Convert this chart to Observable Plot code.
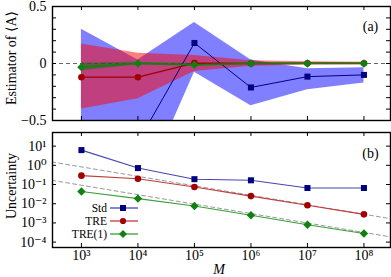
<!DOCTYPE html>
<html><head><meta charset="utf-8">
<script src="https://cdn.jsdelivr.net/npm/d3@7"></script>
<script src="https://cdn.jsdelivr.net/npm/@observablehq/plot@0.6"></script>
<style>
body{margin:0;background:#fff}
#chart{position:relative;width:391px;height:277px;font-family:"Liberation Serif","DejaVu Serif",serif;overflow:hidden}
#chart svg{display:block}
.leg{position:absolute;left:0;display:flex;align-items:center;height:12px;font-size:11.5px;line-height:12px}
.leg span{display:inline-block;width:107px;text-align:right}
.lab{position:absolute;font-size:14px;line-height:14px;white-space:nowrap;transform:translate(-50%,-50%)}
.lab.rot{transform:translate(-50%,-50%) rotate(-90deg)}
</style>
</head><body><div id="chart"></div>
<script>
// ---- data ----
const M = [1e3, 1e4, 1e5, 1e6, 1e7, 1e8];
// panel (a): estimators and uncertainty bands
const stdEst = [-1.2, -0.69, 0.18, -0.21, -0.115, -0.10];
const stdLo  = [-2.5, -1.21, -0.076, -0.37, -0.23, -0.17];
const stdHi  = [0.30, 0.03, 0.36, 0.03, -0.047, -0.038];
const treEst = [-0.12, -0.12, 0.003, 0.0, 0.002, 0.002];
const treLo  = [-0.40, -0.31, -0.07, -0.025, -0.014, -0.01];
const treHi  = [0.17, 0.09, 0.07, 0.025, 0.016, 0.012];
const tre1Est = [-0.032, 0.0, -0.012, 0.0, 0.0, 0.0];
const tre1Lo  = [-0.065, -0.01, -0.02, -0.006, -0.004, -0.003];
const tre1Hi  = [0.005, 0.01, 0.0, 0.006, 0.004, 0.003];
// panel (b): uncertainties
const stdUnc  = [6.2, 0.72, 0.19, 0.166, 0.066, 0.066];
const treUnc  = [0.29, 0.2, 0.074, 0.025, 0.0083, 0.0028];
const tre1Unc = [0.043, 0.0185, 0.0076, 0.0025, 0.00081, 0.00028];
// dashed M^(-1/2) guide lines (end points)
const refM    = [300, 3e8];
const refHigh = [1.5, 0.00165];
const refLow  = [0.166, 0.000186];
// ticks and texts
const estLabelTicks = [-0.5, 0, 0.5];
const estMinorTicks = [-0.4, -0.3, -0.2, -0.1, 0, 0.1, 0.2, 0.3, 0.4];
const uncTicks = [1e1, 1e0, 1e-1, 1e-2, 1e-3, 1e-4];
const seriesNames = ["Std", "TRE", "TRE(1)"];
const yLabelA = "Estimator of ⟨A⟩", yLabelB = "Uncertainty", xLabel = "M";

// ---- styling ----
const W = 391, ML = 52, MR = 1;
const FW = W - ML - MR;
const xDomain = [10 ** 2.488, 10 ** 8.47];
const navy = "#000080", dred = "#a00000", dgreen = "#108010";
const font = "'Liberation Serif','DejaVu Serif',serif";
const supMap = {"-":"⁻","0":"⁰","1":"¹","2":"²","3":"³","4":"⁴","5":"⁵","6":"⁶","7":"⁷","8":"⁸","9":"⁹"};
const pow = d => "10" + String(Math.round(Math.log10(d))).split("").map(c => supMap[c]).join("");

const topRows = M.map((m, i) => ({M: m,
  std: stdEst[i], stdLo: stdLo[i], stdHi: stdHi[i],
  tre: treEst[i], treLo: treLo[i], treHi: treHi[i],
  tre1: tre1Est[i], tre1Lo: tre1Lo[i], tre1Hi: tre1Hi[i]}));
const botRows = M.map((m, i) => ({M: m, std: stdUnc[i], tre: treUnc[i], tre1: tre1Unc[i]}));
const refRows = refM.map((m, i) => ({M: m, hi: refHigh[i], lo: refLow[i]}));

const chart = document.getElementById("chart");

// ---- panel (a) ----
const H1 = 130, MT1 = 6, MB1 = 10, FH1 = H1 - MT1 - MB1;
const panelA = Plot.plot({
  width: W, height: H1, marginTop: MT1, marginBottom: MB1, marginLeft: ML, marginRight: MR,
  style: {fontFamily: font, fontSize: "14px", background: "transparent", color: "black"},
  x: {type: "log", domain: xDomain},
  y: {domain: [-0.5, 0.5]},
  marks: [
    Plot.ruleY([0], {stroke: "#555", strokeDasharray: "4,3", strokeWidth: 0.9}),
    Plot.areaY(topRows, {x: "M", y1: "stdLo", y2: "stdHi", fill: "#0000ff", fillOpacity: 0.5, clip: true}),
    Plot.areaY(topRows, {x: "M", y1: "treLo", y2: "treHi", fill: "#ff0000", fillOpacity: 0.5, clip: true}),
    Plot.areaY(topRows, {x: "M", y1: "tre1Lo", y2: "tre1Hi", fill: "#008000", fillOpacity: 0.5, clip: true}),
    Plot.line(topRows, {x: "M", y: "std", stroke: navy, strokeWidth: 1, clip: true}),
    Plot.line(topRows, {x: "M", y: "tre", stroke: dred, strokeWidth: 1.3, clip: true}),
    Plot.line(topRows, {x: "M", y: "tre1", stroke: dgreen, strokeWidth: 1.6, clip: true}),
    Plot.dot(topRows, {x: "M", y: "std", symbol: "square", r: 3.4, fill: navy, clip: true}),
    Plot.dot(topRows, {x: "M", y: "tre", symbol: "circle", r: 3.3, fill: dred, clip: true}),
    Plot.dot(topRows, {x: "M", y: "tre1", symbol: "diamond2", r: 3.8, fill: dgreen, clip: true}),
    Plot.ruleX(M, {insetTop: FH1 - 4, stroke: "black"}),
    Plot.ruleX(M, {insetBottom: FH1 - 4, stroke: "black"}),
    Plot.ruleY(estMinorTicks, {insetRight: FW - 4, stroke: "black"}),
    Plot.ruleY(estMinorTicks, {insetLeft: FW - 4, stroke: "black"}),
    Plot.frame({stroke: "black", strokeWidth: 1.4}),
    Plot.axisY({ticks: estLabelTicks, tickSize: 0, tickPadding: 6,
      tickFormat: d => d === 0 ? "0" : (d < 0 ? "−" : "") + Math.abs(d), label: null}),
    Plot.axisX({ticks: [], label: null}),
    Plot.text(["(a)"], {frameAnchor: "top-right", dx: -20, dy: 20, textAnchor: "middle", lineAnchor: "middle", fontSize: 14})
  ]
});
chart.appendChild(panelA);

// ---- panel (b) ----
const H2 = 147, MT2 = 2, MB2 = 30, FH2 = H2 - MT2 - MB2;
const panelB = Plot.plot({
  width: W, height: H2, marginTop: MT2, marginBottom: MB2, marginLeft: ML, marginRight: MR,
  style: {fontFamily: font, fontSize: "14px", background: "transparent", color: "black"},
  x: {type: "log", domain: xDomain},
  y: {type: "log", domain: [10 ** -4.28, 10 ** 1.71]},
  marks: [
    Plot.line(refRows, {x: "M", y: "hi", stroke: "#999", strokeDasharray: "4,3", strokeWidth: 1, clip: true}),
    Plot.line(refRows, {x: "M", y: "lo", stroke: "#999", strokeDasharray: "4,3", strokeWidth: 1, clip: true}),
    Plot.line(botRows, {x: "M", y: "std", stroke: "#4646b0", strokeWidth: 1.1}),
    Plot.line(botRows, {x: "M", y: "tre", stroke: "#c03c3c", strokeWidth: 1.1}),
    Plot.line(botRows, {x: "M", y: "tre1", stroke: "#38a038", strokeWidth: 1.1}),
    Plot.dot(botRows, {x: "M", y: "std", symbol: "square", r: 3.4, fill: navy}),
    Plot.dot(botRows, {x: "M", y: "tre", symbol: "circle", r: 3.3, fill: dred}),
    Plot.dot(botRows, {x: "M", y: "tre1", symbol: "diamond2", r: 3.8, fill: dgreen}),
    Plot.ruleX(M, {insetTop: FH2 - 4, stroke: "black"}),
    Plot.ruleX(M, {insetBottom: FH2 - 4, stroke: "black"}),
    Plot.ruleY(uncTicks, {insetRight: FW - 4, stroke: "black"}),
    Plot.ruleY(uncTicks, {insetLeft: FW - 4, stroke: "black"}),
    Plot.frame({stroke: "black", strokeWidth: 1.4}),
    Plot.axisY({ticks: uncTicks, tickSize: 0, tickPadding: 6, tickFormat: pow, label: null}),
    Plot.axisX({ticks: M, tickSize: 0, tickPadding: 3, tickFormat: pow, label: null}),
    Plot.text(["(b)"], {frameAnchor: "top-right", dx: -20, dy: 21, textAnchor: "middle", lineAnchor: "middle", fontSize: 14})
  ]
});
chart.appendChild(panelB);

// ---- axis titles (HTML overlay) ----
function addLabel(text, x, y, cls, extra) {
  const d = document.createElement("div");
  d.className = "lab " + cls;
  d.style.left = x + "px";
  d.style.top = y + "px";
  if (extra) Object.assign(d.style, extra);
  d.textContent = text;
  chart.appendChild(d);
}
addLabel(yLabelA, 12, 58, "rot");
addLabel(yLabelB, 12, 186, "rot");
addLabel(xLabel, 219, 270, "", {fontStyle: "italic"});

// ---- legend (panel b) ----
const legColors = [[navy, "#4646b0", "square"], [dred, "#c03c3c", "circle"], [dgreen, "#38a038", "diamond"]];
const legY = [202.3, 215, 227.7];
seriesNames.forEach((name, i) => {
  const [mc, lc, sym] = legColors[i];
  const row = document.createElement("div");
  row.className = "leg";
  row.style.top = legY[i] + "px";
  let marker;
  if (sym === "square") marker = `<rect x="11" y="3" width="6" height="6" fill="${mc}"/>`;
  else if (sym === "circle") marker = `<circle cx="14" cy="6" r="3.1" fill="${mc}"/>`;
  else marker = `<path d="M14,2 L18,6 L14,10 L10,6 Z" fill="${mc}"/>`;
  row.innerHTML = `<span>${name}</span><svg width="32" height="12" style="margin-left:2px"><line x1="1" y1="6" x2="29" y2="6" stroke="${lc}" stroke-width="1.3"/>${marker}</svg>`;
  chart.appendChild(row);
});
</script>
</body></html>
